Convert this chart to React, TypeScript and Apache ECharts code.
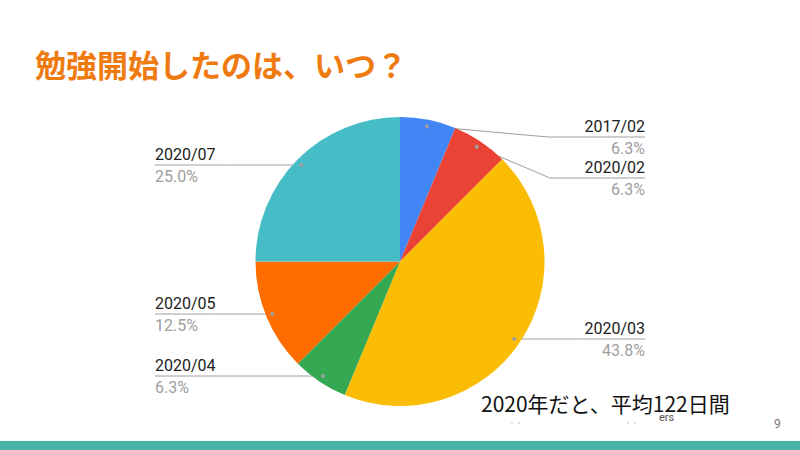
import React, { useEffect, useRef } from "react";
import * as echarts from "echarts";

const categories = ["2017/02", "2020/02", "2020/03", "2020/04", "2020/05", "2020/07"];
const counts = [1, 1, 7, 1, 2, 4];
const colors = ["#4285f4", "#ea4335", "#fbbc04", "#34a853", "#ff6d01", "#46bdc6"];
const titleText = "勉強開始したのは、いつ？";
const noteText = "2020年だと、平均122日間";
const pageNumber = "9";

// layout
const CX = 400;
const CY = 261.5;
const R = 144.5;
const DOT_R = 138;
const labelSide = ["right", "right", "right", "left", "left", "left"];
const labelLineY = [137, 178, 339, 376, 314, 165];
const labelBendX: (number | null)[] = [548, 550, null, null, null, null];
const RIGHT_X = 645;
const LEFT_X = 155;

const total = counts.reduce((a, b) => a + b, 0);

function dotPoint(i: number): [number, number] {
  const side = labelSide[i];
  if (labelBendX[i] != null) {
    let cum = 0;
    for (let k = 0; k < i; k++) cum += counts[k];
    const mid = ((cum + counts[i] / 2) / total) * Math.PI * 2;
    return [CX + DOT_R * Math.sin(mid), CY - DOT_R * Math.cos(mid)];
  }
  const y = labelLineY[i];
  const dy = y - CY;
  const dx = Math.sqrt(Math.max(0, DOT_R * DOT_R - dy * dy));
  return [side === "right" ? CX + dx : CX - dx, y];
}

export default function App() {
  const ref = useRef<HTMLDivElement>(null);
  useEffect(() => {
    if (!ref.current) return;
    const chart = echarts.init(ref.current, undefined, { renderer: "svg" });
    const data = categories.map((name, i) => ({
      name,
      value: counts[i],
      itemStyle: { color: colors[i] },
      label: { align: labelSide[i] as any },
    }));
    const dots = categories.map((_, i) => {
      const p = dotPoint(i);
      return {
        type: "circle",
        shape: { cx: p[0], cy: p[1], r: 2 },
        style: { fill: "#9e9e9e" },
        z: 100,
        silent: true,
      };
    });
    chart.setOption({
      animation: false,
      backgroundColor: "#ffffff",
      series: [
        {
          type: "pie",
          center: [CX, CY],
          radius: R,
          startAngle: 90,
          clockwise: true,
          silent: true,
          emphasis: { disabled: true },
          data,
          label: {
            show: true,
            fontFamily: "Roboto",
            formatter: (p: any) =>
              `{n|${p.name}}\n{p|${((p.value / total) * 100).toFixed(1)}%}`,
            rich: {
              n: { fontSize: 16, color: "#212121", lineHeight: 22, fontFamily: "Roboto" },
              p: { fontSize: 16, color: "#9e9e9e", lineHeight: 22, fontFamily: "Roboto" },
            },
          },
          labelLine: {
            show: true,
            lineStyle: { color: "#9e9e9e", width: 1 },
          },
          labelLayout: (params: any) => {
            const i = params.dataIndex;
            const side = labelSide[i];
            const y = labelLineY[i];
            const d = dotPoint(i);
            const endX = side === "right" ? RIGHT_X : LEFT_X;
            const bx = labelBendX[i];
            const mid: [number, number] =
              bx != null ? [bx, y] : [(d[0] + endX) / 2, y];
            return {
              x: endX,
              y,
              align: side,
              verticalAlign: "middle",
              labelLinePoints: [d, mid, [endX, y]],
            };
          },
        },
      ],
      graphic: [
        {
          type: "text",
          left: 35,
          top: 48,
          style: {
            text: titleText,
            fill: "#ef7b10",
            font: "bold 31px 'Noto Sans CJK JP'",
          },
        },
        {
          type: "text",
          left: 481,
          top: 392,
          style: {
            text: noteText,
            fill: "#111111",
            font: "21px 'Noto Sans CJK JP'",
          },
        },
        {
          type: "text",
          left: 659,
          top: 412,
          style: { text: "ers", fill: "#555555", font: "11px Roboto" },
        },
        {
          type: "text",
          left: 774,
          top: 418,
          style: { text: pageNumber, fill: "#777777", font: "12px Roboto" },
        },
        ...[512, 519, 628, 635].map((x) => ({
          type: "circle",
          shape: { cx: x, cy: 423, r: 0.7 },
          style: { fill: "#aaaaaa" },
        })),
        {
          type: "rect",
          shape: { x: 0, y: 441, width: 800, height: 9 },
          style: { fill: "#47b4a6" },
        },
        ...dots,
      ],
    });
    return () => chart.dispose();
  }, []);
  return (
    <div
      ref={ref}
      style={{ position: "absolute", left: 0, top: 0, width: 800, height: 450 }}
    />
  );
}
